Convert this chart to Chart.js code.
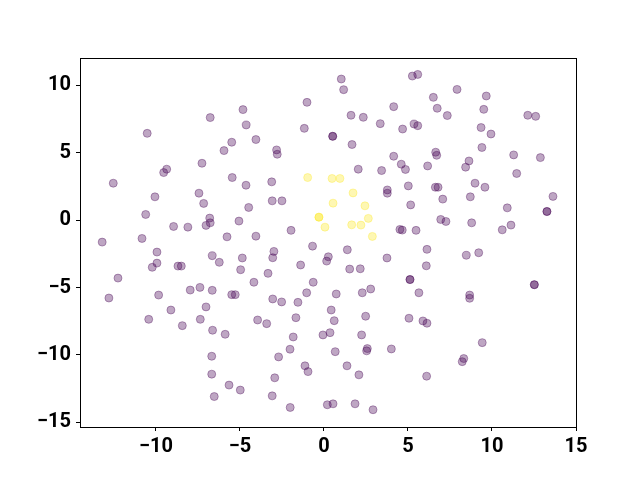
<!DOCTYPE html>
<html>
<head>
<meta charset="utf-8">
<script src="https://cdn.jsdelivr.net/npm/chart.js@4/dist/chart.umd.min.js"></script>
<style>
  body { margin: 0; background: #fff; }
  #wrap { width: 640px; height: 480px; }
</style>
</head>
<body>
<div id="wrap"><canvas id="scatter" width="640" height="480"></canvas></div>
<script>
// cluster 0 (purple) and cluster 1 (yellow)
var purpleX = [
  -4.82, -6.77, -4.63, -10.52, -5.49, -5.95, -7.26, -9.36, -9.54, -12.54,
  -5.46, -4.64, -10.06, -7.44, -7.16, -4.48, -10.61, -6.80, -6.77, -7.02,
  -5.06, -8.95, -8.10, -13.20, -10.83, -5.77,
  1.03, 1.17, 5.26, 5.58, -1.01, 4.15, 1.61, 2.34, 3.35, 4.68,
  -1.17, 0.52, 0.52, -4.05, 1.67, -2.82, -2.78, 4.15, 4.60, 4.85,
  2.04, 3.43, -3.11, 5.02, 3.77, 3.77, -3.08, -2.50, 5.16, -1.96,
  -4.05, 4.52, 4.66, -0.68,
  7.92, 6.51, 9.66, 6.74, 9.51, 7.34, 12.13, 12.60, 5.36, 5.58,
  9.35, 9.94, 9.40, 6.65, 6.71, 11.29, 12.88, 8.63, 8.43, 6.17,
  11.47, 8.99, 9.58, 6.63, 6.79, 7.07, 8.71, 13.63, 10.91, 13.27,
  13.27, 6.95, 7.26, 8.79, 10.61, 11.13, 5.48,
  -9.94, -9.94, -10.22, -8.69, -8.49, -6.65, -6.23, -4.86, -4.96, -12.26,
  -12.80, -9.84, -7.96, -7.38, -6.65, -5.49, -5.28, -9.11, -7.02, -10.43,
  -8.43, -7.36, -6.63, -5.88, -6.68, -6.68, -5.65, -4.98, -6.53,
  -2.98, -3.05, 1.39, 0.26, 0.16, -1.39, -3.33, 1.53, 2.16, 3.75,
  5.12, 5.12, -4.17, -0.64, -1.03, 0.73, 2.28, 2.78, -3.05, -2.52,
  -1.55, 0.43, 0.61, -3.95, -3.41, -1.67, 2.48, 5.06, -0.06, 0.36,
  -1.83, 2.24, -2.02, 0.67, 2.58, 2.54, 4.01, -2.70, -1.13, -0.95,
  1.37, 2.08, -2.93, -3.08, -2.01, 0.20, 0.54, 1.85, 2.92,
  6.13, 6.09, 8.47, 9.21, 12.52, 12.52, 5.65, 8.67, 8.67, 5.89,
  6.13, 9.42, 8.32, 8.23, 6.11
];
var purpleY = [
  8.20, 7.61, 7.06, 6.44, 5.78, 5.16, 4.22, 3.78, 3.53, 2.74,
  3.16, 2.59, 1.73, 2.00, 1.24, 0.94, 0.42, 0.15, -0.20, -0.39,
  -0.07, -0.47, -0.52, -1.63, -1.36, -1.24,
  10.47, 9.68, 10.69, 10.81, 8.74, 8.42, 7.78, 7.63, 7.16, 6.76,
  6.81, 6.22, 6.22, 5.98, 5.61, 5.21, 4.89, 4.74, 4.15, 3.76,
  3.78, 3.68, 2.84, 2.54, 2.24, 2.00, 1.43, 1.43, 1.13, -0.76,
  -1.19, -0.69, -0.74, -1.93,
  9.70, 9.11, 9.21, 8.30, 8.22, 7.76, 7.78, 7.70, 7.13, 7.01,
  6.87, 6.39, 5.39, 5.04, 4.81, 4.84, 4.64, 4.39, 3.93, 4.02,
  3.46, 2.74, 2.44, 2.44, 2.44, 1.56, 1.73, 1.76, 0.91, 0.64,
  0.64, 0.05, -0.10, -0.20, -0.72, -0.37, -0.76,
  -2.37, -3.19, -3.50, -3.41, -3.41, -2.64, -3.13, -2.81, -3.68, -4.30,
  -5.78, -5.56, -5.19, -4.99, -5.21, -5.53, -5.53, -6.67, -6.44, -7.36,
  -7.83, -7.36, -8.17, -8.47, -10.10, -11.43, -12.24, -12.61, -13.09,
  -2.32, -2.79, -2.20, -2.72, -3.04, -3.33, -3.95, -3.63, -3.61, -2.81,
  -4.41, -4.41, -4.61, -4.61, -5.39, -5.48, -5.39, -5.11, -5.85, -6.07,
  -6.10, -6.67, -7.46, -7.41, -7.68, -7.24, -7.13, -7.28, -8.52, -8.35,
  -8.67, -8.52, -9.58, -9.76, -9.53, -9.70, -9.56, -10.15, -10.81, -11.24,
  -10.81, -11.48, -11.70, -13.04, -13.90, -13.70, -13.63, -13.63, -14.07,
  -2.17, -3.39, -2.61, -2.42, -4.79, -4.79, -5.39, -5.56, -5.80, -7.48,
  -7.65, -9.09, -10.27, -10.50, -11.58
];
var yellowX = [-0.97, 0.48, 0.95, 1.73, 0.54, 2.44, -0.30, -0.30, 2.64, 0.06, 1.65, 2.20, 2.88];
var yellowY = [3.16, 3.09, 3.09, 2.02, 1.26, 1.06, 0.22, 0.22, 0.13, -0.52, -0.35, -0.37, -1.21];

var xTicks = [-10, -5, 0, 5, 10, 15];
var yTicks = [-15, -10, -5, 0, 5, 10];

function toPoints(xs, ys) {
  return xs.map(function (x, i) { return { x: x, y: ys[i] }; });
}

function fmt(v) {
  return v < 0 ? "\u2212" + Math.abs(v) : String(v);
}

// top and right spines
var frame = {
  id: "frame",
  afterDraw: function (chart) {
    var a = chart.chartArea;
    var c = chart.ctx;
    c.save();
    c.strokeStyle = "#000";
    c.lineWidth = 1;
    c.strokeRect(Math.round(a.left) + 0.5, Math.round(a.top) + 0.5,
      Math.round(a.right - a.left), Math.round(a.bottom - a.top));
    c.restore();
  }
};

var ctx = document.getElementById("scatter").getContext("2d");

var myChart = new Chart(ctx, {
  type: "scatter",
  data: {
    datasets: [
      {
        data: toPoints(purpleX, purpleY),
        backgroundColor: "rgba(68, 1, 84, 0.35)",
        borderColor: "rgba(68, 1, 84, 0.35)",
        borderWidth: 1,
        pointRadius: 4,
        pointHoverRadius: 4,
      },
      {
        data: toPoints(yellowX, yellowY),
        backgroundColor: "rgba(253, 231, 37, 0.35)",
        borderColor: "rgba(253, 231, 37, 0.35)",
        borderWidth: 1,
        pointRadius: 4,
        pointHoverRadius: 4,
      },
    ],
  },
  options: {
    responsive: false,
    animation: false,
    devicePixelRatio: 1,
    layout: { padding: { top: 58, right: 64, left: 0, bottom: 0 } },
    plugins: { legend: { display: false }, tooltip: { enabled: false } },
    scales: {
      x: {
        type: "linear",
        min: -14.52,
        max: 15,
        afterBuildTicks: function (s) { s.ticks = xTicks.map(function (v) { return { value: v }; }); },
        afterFit: function (s) { s.height = 53; },
        grid: { drawOnChartArea: false, drawTicks: true, tickLength: 4, tickColor: "#000" },
        border: { display: true, color: "#000", width: 1 },
        ticks: {
          color: "#000",
          padding: 4,
          maxRotation: 0,
          font: { family: "Roboto", size: 20, weight: "bold" },
          callback: fmt,
        },
      },
      y: {
        type: "linear",
        min: -15.35,
        max: 12.03,
        afterBuildTicks: function (s) { s.ticks = yTicks.map(function (v) { return { value: v }; }); },
        afterFit: function (s) { s.width = 80; },
        grid: { drawOnChartArea: false, drawTicks: true, tickLength: 4, tickColor: "#000" },
        border: { display: true, color: "#000", width: 1 },
        ticks: {
          color: "#000",
          padding: 5,
          font: { family: "Roboto", size: 20, weight: "bold" },
          callback: fmt,
        },
      },
    },
  },
  plugins: [frame],
});
</script>
</body>
</html>
